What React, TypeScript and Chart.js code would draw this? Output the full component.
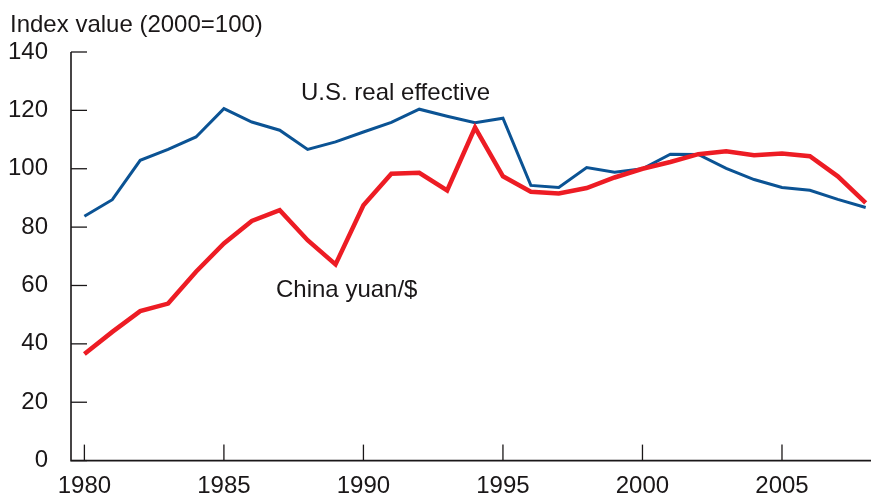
import React, { useEffect, useRef } from "react";
import { Chart, registerables } from "chart.js";

Chart.register(...registerables);

const years = [1980, 1981, 1982, 1983, 1984, 1985, 1986, 1987, 1988, 1989, 1990, 1991, 1992, 1993, 1994, 1995, 1996, 1997, 1998, 1999, 2000, 2001, 2002, 2003, 2004, 2005, 2006, 2007, 2008];
const usRealEffective = [83.7, 89.4, 102.9, 106.6, 110.9, 120.6, 116, 113.2, 106.6, 109.2, 112.6, 115.9, 120.4, 118, 115.8, 117.3, 94.3, 93.6, 100.4, 98.8, 100, 105, 104.9, 100.1, 96.3, 93.6, 92.6, 89.5, 86.7];
const chinaYuan = [36.5, 44.1, 51.2, 53.8, 64.7, 74.4, 82.1, 85.8, 75.5, 67.2, 87.5, 98.3, 98.6, 92.6, 114.1, 97.4, 92.1, 91.5, 93.4, 97, 100, 102.3, 105, 106, 104.6, 105.2, 104.3, 97.4, 88.3];
const xTickYears = [1980, 1985, 1990, 1995, 2000, 2005];
const yTickValues = [0, 20, 40, 60, 80, 100, 120, 140];
const titleText = "Index value (2000=100)";
const usLabel = "U.S. real effective";
const chinaLabel = "China yuan/$";

const FONT = "Liberation Sans, Arial, Helvetica, sans-serif";
const INK = "#1a1718";

export default function App() {
  const ref = useRef<HTMLCanvasElement | null>(null);
  useEffect(() => {
    if (!ref.current) return;
    const decor = {
      id: "decor",
      afterDraw(chart: any) {
        const { ctx, chartArea, scales } = chart;
        const xs = scales.x;
        const ys = scales.y;
        ctx.save();
        ctx.strokeStyle = INK;
        ctx.lineWidth = 1.6;
        ctx.beginPath();
        ctx.moveTo(chartArea.left, chartArea.top);
        ctx.lineTo(chartArea.left, chartArea.bottom);
        ctx.lineTo(chartArea.right, chartArea.bottom);
        ctx.stroke();
        ctx.lineWidth = 1.3;
        for (const v of yTickValues) {
          const y = ys.getPixelForValue(v);
          ctx.beginPath();
          ctx.moveTo(chartArea.left, y);
          ctx.lineTo(chartArea.left + 16, y);
          ctx.stroke();
        }
        for (const v of xTickYears) {
          const x = xs.getPixelForValue(v);
          ctx.beginPath();
          ctx.moveTo(x, chartArea.bottom);
          ctx.lineTo(x, chartArea.bottom - 16);
          ctx.stroke();
        }
        ctx.fillStyle = INK;
        ctx.font = `24px ${FONT}`;
        ctx.textBaseline = "alphabetic";
        ctx.textAlign = "left";
        ctx.fillText(titleText, 10, 32);
        ctx.fillText(usLabel, 301, 100);
        ctx.fillText(chinaLabel, 276, 297);
        ctx.restore();
      },
    };
    const chart = new Chart(ref.current, {
      type: "line",
      data: {
        datasets: [
          {
            label: "China yuan/$",
            data: years.map((y, i) => ({ x: y, y: chinaYuan[i] })),
            borderColor: "#ed1c24",
            borderWidth: 4.5,
            pointRadius: 0,
            tension: 0,
            order: 0,
          },
          {
            label: "U.S. real effective",
            data: years.map((y, i) => ({ x: y, y: usRealEffective[i] })),
            borderColor: "#0b5394",
            borderWidth: 3,
            pointRadius: 0,
            tension: 0,
            order: 1,
          },
        ],
      },
      options: {
        animation: false,
        responsive: false,
        maintainAspectRatio: false,
        layout: { padding: { top: 52, left: 0, right: 0, bottom: 0 } },
        plugins: { legend: { display: false }, tooltip: { enabled: false }, title: { display: false } },
        scales: {
          x: {
            type: "linear",
            min: 1979.52,
            max: 2008.19,
            grid: { display: false, drawTicks: false },
            border: { display: false },
            afterBuildTicks: (scale: any) => {
              scale.ticks = xTickYears.map((v) => ({ value: v }));
            },
            afterFit: (scale: any) => {
              scale.height = 37;
            },
            ticks: {
              autoSkip: false,
              maxRotation: 0,
              padding: 11,
              color: INK,
              font: { family: FONT, size: 24 },
              callback: (v: any) => String(v),
            },
          },
          y: {
            min: 0,
            max: 140,
            grid: { display: false, drawTicks: false },
            border: { display: false },
            afterBuildTicks: (scale: any) => {
              scale.ticks = yTickValues.map((v) => ({ value: v }));
            },
            afterFit: (scale: any) => {
              scale.width = 71;
            },
            ticks: {
              padding: 23,
              color: INK,
              font: { family: FONT, size: 24 },
              callback: (v: any) => String(v),
            },
          },
        },
      },
      plugins: [decor],
    });
    return () => chart.destroy();
  }, []);
  return (
    <div style={{ position: "fixed", left: 0, top: 0, width: 871, height: 498, background: "#fff" }}>
      <canvas ref={ref} width={871} height={498} style={{ width: 871, height: 498, display: "block" }} />
    </div>
  );
}
